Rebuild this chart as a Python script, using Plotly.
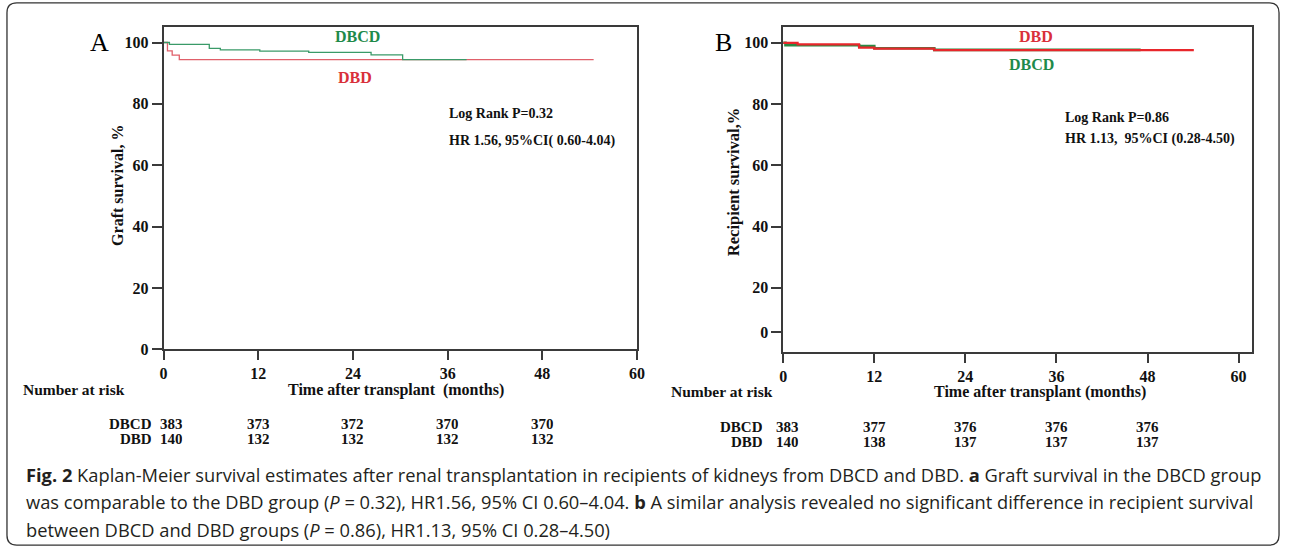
import plotly.graph_objects as go

W, H = 1290, 557

# ---------------- data ----------------
# Panel A: graft survival (%)
a_dbcd_t = [0, 0.75, 5.8, 7.2, 12.2, 18.4, 26.3, 30.3, 38.4]
a_dbcd_s = [100, 99.4, 98.1, 97.6, 97.2, 96.8, 96.0, 94.4, 94.4]
a_dbd_t = [0, 0.5, 1.1, 2.0, 54.5]
a_dbd_s = [100, 97.3, 95.9, 94.4, 94.4]

# Panel B: recipient survival (%)
b_dbcd_t = [0, 0.3, 10.0, 12.0, 19.9, 47.1]
b_dbcd_s = [100, 99.2, 98.9, 98.2, 97.7, 97.7]
b_dbd_t = [0, 1.9, 10.0, 12.0, 19.9, 54.1]
b_dbd_s = [100, 99.5, 98.4, 98.1, 97.6, 97.6]

x_ticks = [0, 12, 24, 36, 48, 60]
risk_times = [0, 12, 24, 36, 48]
a_risk_dbcd = [383, 373, 372, 370, 370]
a_risk_dbd = [140, 132, 132, 132, 132]
b_risk_dbcd = [383, 377, 376, 376, 376]
b_risk_dbd = [140, 138, 137, 137, 137]

a_y_ticks = [0, 20, 40, 60, 80, 100]
b_y_labels = ["0", "20", "40", "60", "80", "100"]

# ---------------- helpers ----------------
def px(x):
    return x / W

def py(y):
    return 1 - y / H

SERIF = "Liberation Serif"
GREEN_A = "#3a9a68"
RED_A = "#e0606a"
GREEN_B = "#2a8a45"
RED_B = "#e8262b"
AX = "#3a3a3a"

fig = go.Figure()

fig.add_trace(go.Scatter(x=a_dbd_t, y=a_dbd_s, mode="lines", line_shape="hv",
                         line=dict(color=RED_A, width=1.3), xaxis="x", yaxis="y",
                         showlegend=False))
fig.add_trace(go.Scatter(x=a_dbcd_t, y=a_dbcd_s, mode="lines", line_shape="hv",
                         line=dict(color=GREEN_A, width=1.3), xaxis="x", yaxis="y",
                         showlegend=False))
fig.add_trace(go.Scatter(x=b_dbcd_t, y=b_dbcd_s, mode="lines", line_shape="hv",
                         line=dict(color=GREEN_B, width=2.6), xaxis="x2", yaxis="y2",
                         showlegend=False))
fig.add_trace(go.Scatter(x=b_dbd_t, y=b_dbd_s, mode="lines", line_shape="hv",
                         line=dict(color=RED_B, width=2.2), xaxis="x2", yaxis="y2",
                         showlegend=False))

tickfont = dict(family=SERIF, size=16, color="#111", weight="bold")
common = dict(showline=True, linecolor=AX, linewidth=1.5, mirror=True,
              showgrid=False, zeroline=False, ticks="outside", tickwidth=1.5,
              tickcolor=AX, tickfont=tickfont)

fig.update_layout(
    width=W, height=H,
    margin=dict(l=0, r=0, t=0, b=0),
    paper_bgcolor="white", plot_bgcolor="white",
    xaxis=dict(domain=[px(161), px(639)], range=[0, 60], tickvals=x_ticks,
               ticklen=9, anchor="y", **common),
    yaxis=dict(domain=[py(355), py(27)], range=[0, 105.2], tickvals=a_y_ticks,
               ticklen=10, anchor="x", **common),
    xaxis2=dict(domain=[px(786.5), px(1260)], range=[0, 61.8], tickvals=x_ticks,
                ticklen=9, anchor="y2", **common),
    yaxis2=dict(domain=[py(358), py(27)], range=[-1.0, 105.3],
                tickvals=[5.5, 20, 40, 60, 80, 100], ticktext=b_y_labels,
                ticklen=10, anchor="x2", **common),
)

ann = []

def txt(x, y, s, size=14, color="#111", anchor="center", bold=True, family=SERIF,
        angle=0, xref="paper", xshift=0, height=None):
    d = dict(x=x if xref != "paper" else px(x), y=py(y), xref=xref, yref="paper",
             text=s, showarrow=False, xanchor=anchor, yanchor="middle",
             textangle=angle, xshift=xshift, borderpad=0,
             font=dict(family=family, size=size, color=color,
                       weight="bold" if bold else "normal"))
    if height is not None:
        d["height"] = height
    ann.append(d)

# Panel letters
txt(96, 43, "A", size=26, bold=False, color="#000")
txt(726, 43, "B", size=26, bold=False, color="#000")

# Panel A labels
txt(357, 37, "DBCD", size=16, color="#1e8a4a")
txt(354, 79, "DBD", size=16, color="#d9303a")
txt(448, 115, "Log Rank P=0.32", size=14, anchor="left")
txt(448, 143, "HR 1.56, 95%CI( 0.60-4.04)", size=14, anchor="left")
txt(115, 188, "Graft survival, %", size=16, angle=-90)
txt(396, 396, "Time after transplant  (months)", size=16)
txt(18, 396, "Number at risk", size=15.5, anchor="left")

ROW_FS = 15
ROW_H = 13
txt(150, 430, "DBCD", size=ROW_FS, anchor="right", height=ROW_H)
txt(150, 446, "DBD", size=ROW_FS, anchor="right", height=ROW_H)
for i, (t, v1, v2) in enumerate(zip(risk_times, a_risk_dbcd, a_risk_dbd)):
    sh = 8 if i == 0 else 0
    txt(t, 430, str(v1), size=ROW_FS, xref="x", xshift=sh, height=ROW_H)
    txt(t, 446, str(v2), size=ROW_FS, xref="x", xshift=sh, height=ROW_H)

# Panel B labels
txt(1042, 37, "DBD", size=16, color="#d9303a")
txt(1037, 66, "DBCD", size=16, color="#1e8a4a")
txt(1070, 119, "Log Rank P=0.86", size=14, anchor="left")
txt(1070, 141, "HR 1.13,  95%CI (0.28-4.50)", size=14, anchor="left")
txt(736, 185, "Recipient survival,%", size=16.5, angle=-90)
txt(1046, 398, "Time after transplant (months)", size=16)
txt(672, 398, "Number at risk", size=15.5, anchor="left")
txt(767, 433, "DBCD", size=ROW_FS, anchor="right", height=ROW_H)
txt(767, 449, "DBD", size=ROW_FS, anchor="right", height=ROW_H)
for i, (t, v1, v2) in enumerate(zip(risk_times, b_risk_dbcd, b_risk_dbd)):
    sh = 4 if i == 0 else 0
    txt(t, 433, str(v1), size=ROW_FS, xref="x2", xshift=sh, height=ROW_H)
    txt(t, 449, str(v2), size=ROW_FS, xref="x2", xshift=sh, height=ROW_H)

# Caption
CAP = "Open Sans"
cap_lines = [
    "<b>Fig. 2</b> Kaplan-Meier survival estimates after renal transplantation in recipients of kidneys from DBCD and DBD. <b>a</b> Graft survival in the DBCD group",
    "was comparable to the DBD group (<i>P</i> = 0.32), HR1.56, 95% CI 0.60–4.04. <b>b</b> A similar analysis revealed no significant difference in recipient survival",
    "between DBCD and DBD groups (<i>P</i> = 0.86), HR1.13, 95% CI 0.28–4.50)",
]
for line, y in zip(cap_lines, [482, 510, 538]):
    txt(21, y, line, size=18.3, color="#231f20", anchor="left", bold=False, family=CAP)

fig.update_layout(annotations=ann)

# Rounded outer frame
x0, y0, x1, y1, r = 3, 3, 1287, 554, 10
path = (f"M {px(x0 + r)},{py(y0)} L {px(x1 - r)},{py(y0)} "
        f"Q {px(x1)},{py(y0)} {px(x1)},{py(y0 + r)} "
        f"L {px(x1)},{py(y1 - r)} Q {px(x1)},{py(y1)} {px(x1 - r)},{py(y1)} "
        f"L {px(x0 + r)},{py(y1)} Q {px(x0)},{py(y1)} {px(x0)},{py(y1 - r)} "
        f"L {px(x0)},{py(y0 + r)} Q {px(x0)},{py(y0)} {px(x0 + r)},{py(y0)} Z")
fig.add_shape(type="path", path=path, xref="paper", yref="paper",
              line=dict(color="#333", width=1.3), layer="below")

fig.write_html(
    "out.html",
    config={"displayModeBar": False},
    post_script=("document.body.style.margin='0px';"
                 "document.body.style.overflow='hidden';"
                 "document.documentElement.style.overflow='hidden';"),
)
